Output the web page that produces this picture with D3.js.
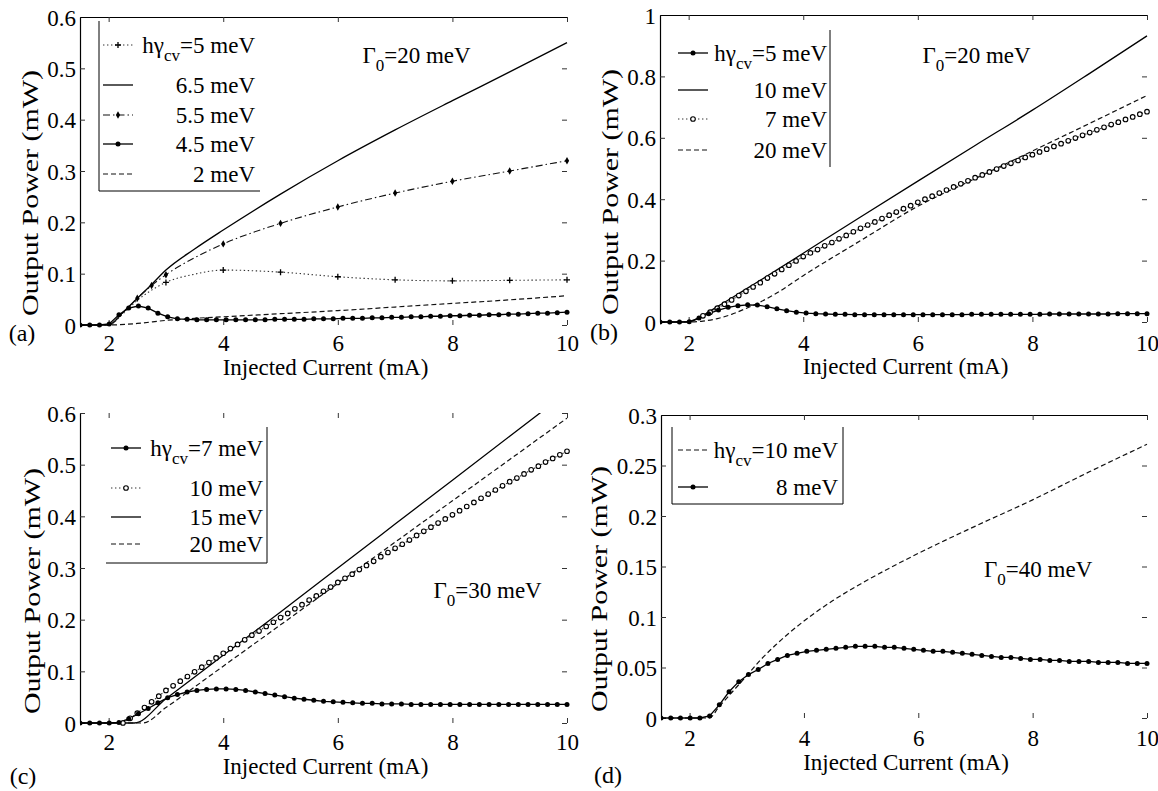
<!DOCTYPE html>
<html>
<head>
<meta charset="utf-8">
<script src="https://cdn.jsdelivr.net/npm/d3@7"></script>
<style>
  body { margin: 0; background: #fff; }
  svg text { font-family: "Liberation Serif", "DejaVu Serif", "Times New Roman", serif; }
</style>
</head>
<body>
<svg id="fig" width="1158" height="791"></svg>
<script>
const FONT = '"Liberation Serif", "DejaVu Serif", "Times New Roman", serif';

// ---- ticks ----
const xTicks = [2, 4, 6, 8, 10];
const yTicks06 = [0, 0.1, 0.2, 0.3, 0.4, 0.5, 0.6];
const yTicks1 = [0, 0.2, 0.4, 0.6, 0.8, 1];
const yTicks03 = [0, 0.05, 0.1, 0.15, 0.2, 0.25, 0.3];

// sample grids of the densely marked curves
const dotGrid = d3.range(51).map(i => +(1.5 + 0.17 * i).toFixed(2));
const ringGrid = d3.range(63).map(i => 2.25 + 0.125 * i);

// ---- panel (a), Gamma0 = 20 meV ----
const aX = [1.5, 2, 2.25, 2.5, 2.75, 3, 3.5, 4, 5, 6, 7, 8, 9, 10];
const a_5 = [0, 0, 0.022, 0.048, 0.068, 0.083, 0.099, 0.107, 0.103, 0.094, 0.088, 0.086, 0.087, 0.088];
const a_65 = [0, 0, 0.025, 0.052, 0.079, 0.107, 0.148, 0.185, 0.255, 0.32, 0.38, 0.437, 0.493, 0.55];
const a_55 = [0, 0, 0.024, 0.052, 0.077, 0.098, 0.131, 0.158, 0.198, 0.23, 0.257, 0.28, 0.3, 0.32];
const a_45 = [0, 0, 0, 0.002, 0.02, 0.033, 0.037, 0.033, 0.023, 0.016,
  0.012, 0.011, 0.01, 0.01, 0.01, 0.01, 0.01, 0.01, 0.01, 0.01,
  0.011, 0.011, 0.011, 0.011, 0.012, 0.012, 0.012, 0.013, 0.013, 0.013,
  0.014, 0.014, 0.015, 0.015, 0.016, 0.016, 0.017, 0.017, 0.018, 0.018,
  0.019, 0.019, 0.02, 0.02, 0.021, 0.021, 0.022, 0.023, 0.023, 0.024, 0.025];
const a2X = [1.5, 2, 2.5, 3, 3.5, 4, 5, 6, 7, 8, 9, 10];
const a_2 = [0, 0, 0.003, 0.009, 0.013, 0.016, 0.022, 0.028, 0.035, 0.042, 0.049, 0.057];
const a_5marks = [3, 4, 5, 6, 7, 8, 9, 10];
const a_55marks = [2.5, 2.75, 3, 4, 5, 6, 7, 8, 9, 10];

// ---- panel (b), Gamma0 = 20 meV ----
const b_5 = [0, 0, 0, 0.001, 0.013, 0.027, 0.039, 0.048, 0.053, 0.056,
  0.055, 0.05, 0.043, 0.037, 0.032, 0.029, 0.027, 0.026, 0.025, 0.025,
  0.024, 0.024, 0.024, 0.024, 0.024, 0.024, 0.024, 0.024, 0.024, 0.024,
  0.024, 0.024, 0.025, 0.025, 0.025, 0.025, 0.025, 0.025, 0.025, 0.025,
  0.026, 0.026, 0.026, 0.026, 0.026, 0.026, 0.026, 0.027, 0.027, 0.027, 0.027];
const bX = [1.5, 2, 2.25, 2.5, 2.75, 3, 3.5, 4, 5, 6, 7, 8, 9, 10];
const b_10 = [0, 0, 0.022, 0.05, 0.078, 0.107, 0.165, 0.224, 0.342, 0.459, 0.575, 0.69, 0.81, 0.932];
const b_7 = [0.02, 0.032, 0.045, 0.058, 0.072, 0.086, 0.1, 0.114, 0.128, 0.143, 0.157, 0.171, 0.185, 0.199, 0.213,
  0.225, 0.236, 0.248, 0.259, 0.271, 0.282, 0.294, 0.305,
  0.316, 0.326, 0.337, 0.348, 0.358, 0.369, 0.379, 0.39,
  0.4, 0.41, 0.42, 0.43, 0.44, 0.45, 0.46, 0.47,
  0.479, 0.489, 0.498, 0.508, 0.517, 0.526, 0.536, 0.545,
  0.554, 0.563, 0.572, 0.581, 0.59, 0.599, 0.608, 0.617,
  0.626, 0.634, 0.643, 0.651, 0.66, 0.668, 0.677, 0.685];
const b20X = [1.5, 2, 2.25, 2.5, 2.75, 3, 3.25, 3.5, 4, 5, 6, 7, 8, 9, 10];
const b_20 = [0, 0, 0.003, 0.011, 0.025, 0.044, 0.065, 0.09, 0.151, 0.265, 0.377, 0.467, 0.557, 0.647, 0.738];

// ---- panel (c), Gamma0 = 30 meV ----
const c_7 = [0, 0, 0, 0, 0.001, 0.008, 0.018, 0.028, 0.039, 0.049,
  0.055, 0.06, 0.063, 0.065, 0.066, 0.066, 0.065, 0.063, 0.06, 0.057,
  0.054, 0.051, 0.048, 0.046, 0.044, 0.042, 0.041, 0.04, 0.039, 0.038,
  0.038, 0.037, 0.037, 0.037, 0.036, 0.036, 0.036, 0.036, 0.036, 0.036,
  0.036, 0.036, 0.036, 0.036, 0.036, 0.036, 0.036, 0.036, 0.036, 0.036, 0.036];
const c_10 = [0, 0.009, 0.019, 0.03, 0.041, 0.052, 0.063, 0.072, 0.081, 0.09, 0.099, 0.108, 0.117, 0.126, 0.135,
  0.144, 0.152, 0.161, 0.17, 0.178, 0.187, 0.195, 0.204,
  0.212, 0.221, 0.229, 0.238, 0.246, 0.255, 0.263, 0.272,
  0.28, 0.288, 0.297, 0.305, 0.313, 0.322, 0.33, 0.338,
  0.346, 0.354, 0.363, 0.371, 0.379, 0.387, 0.395, 0.403,
  0.411, 0.419, 0.427, 0.435, 0.443, 0.451, 0.459, 0.467,
  0.474, 0.482, 0.49, 0.497, 0.505, 0.512, 0.519, 0.526];
const c15X = [1.5, 2.45, 3, 4, 5, 6, 7, 8, 9, 10];
const c_15 = [0, 0, 0.047, 0.131, 0.215, 0.3, 0.385, 0.47, 0.555, 0.64];
const c20X = [1.5, 2.6, 3, 4, 5, 6, 7, 8, 9, 10];
const c_20 = [0, 0, 0.03, 0.11, 0.19, 0.27, 0.35, 0.43, 0.51, 0.59];

// ---- panel (d), Gamma0 = 40 meV ----
const d10X = [1.5, 2.35, 2.5, 2.75, 3, 3.25, 3.5, 4, 4.5, 5, 6, 7, 8, 9, 10];
const d_10 = [0, 0, 0.01, 0.026, 0.042, 0.058, 0.072, 0.096, 0.116, 0.133, 0.163, 0.19, 0.216, 0.244, 0.271];
const d_8 = [0, 0, 0, 0, 0, 0.002, 0.013, 0.026, 0.036, 0.043,
  0.048, 0.054, 0.058, 0.062, 0.064, 0.066, 0.067, 0.068, 0.069, 0.07,
  0.071, 0.071, 0.071, 0.07, 0.07, 0.069, 0.068, 0.067, 0.066, 0.066,
  0.065, 0.064, 0.063, 0.062, 0.061, 0.06, 0.06, 0.059, 0.058, 0.058,
  0.057, 0.057, 0.056, 0.056, 0.056, 0.055, 0.055, 0.055, 0.054, 0.054, 0.054];

// line looks
const looks = {
  solid:   { dash: null, w: 1.3, color: '#000' },
  dotted:  { dash: '1.4,2.6', w: 1.1, color: '#333' },
  dashdot: { dash: '7,3,1.5,3', w: 1.1, color: '#111' },
  dashed:  { dash: '5,3', w: 1.2, color: '#111' }
};

const panels = [
  {
    tag: '(a)', L: 80, R: 567, T: 17, B: 325, yMax: 0.6, yTicks: yTicks06,
    tickY: 343, labelY: 367, tagPos: [22, 333], yLab: [30, 193], topLine: true,
    gamma: { x: 6.43, y: 0.526, val: '20 meV' },
    series: [
      { x: aX, y: a_65, look: 'solid' },
      { x: a2X, y: a_2, look: 'dashed' },
      { x: aX, y: a_55, look: 'dashdot', mark: 'diamond', at: a_55marks },
      { x: aX, y: a_5, look: 'dotted', mark: 'plus', at: a_5marks },
      { x: dotGrid, y: a_45, look: 'solid', mark: 'dot' }
    ],
    legend: {
      x0: 99, x1: 260, y0: 21, y1: 191, sides: ['left', 'bottom'], lx: [103, 133], tx: 255,
      rows: [
        { y: 45, look: 'dotted', mark: 'plus', sub: true, val: '=5 meV' },
        { y: 85, look: 'solid', val: '6.5 meV' },
        { y: 115, look: 'dashdot', mark: 'diamond', val: '5.5 meV' },
        { y: 144, look: 'solid', mark: 'dot', val: '4.5 meV' },
        { y: 174, look: 'dashed', val: '2 meV' }
      ]
    }
  },
  {
    tag: '(b)', L: 660, R: 1147, T: 15, B: 322, yMax: 1, yTicks: yTicks1,
    tickY: 343, labelY: 366, tagPos: [604, 332], yLab: [610, 192], topLine: true,
    gamma: { x: 6.08, y: 0.87, val: '20 meV' },
    series: [
      { x: bX, y: b_10, look: 'solid' },
      { x: b20X, y: b_20, look: 'dashed' },
      { x: ringGrid, y: b_7, look: 'dotted', mark: 'ring' },
      { x: dotGrid, y: b_5, look: 'solid', mark: 'dot' }
    ],
    legend: {
      x0: 672, x1: 830, y0: 30, y1: 167, sides: ['right'], lx: [678, 708], tx: 827,
      rows: [
        { y: 53, look: 'solid', mark: 'dot', sub: true, val: '=5 meV' },
        { y: 90, look: 'solid', val: '10 meV' },
        { y: 119, look: 'dotted', mark: 'ring', val: '7 meV' },
        { y: 150, look: 'dashed', val: '20 meV' }
      ]
    }
  },
  {
    tag: '(c)', L: 80, R: 567, T: 413, B: 723, yMax: 0.6, yTicks: yTicks06,
    tickY: 742, labelY: 766, tagPos: [23, 776], yLab: [32, 591], topLine: false,
    gamma: { x: 7.67, y: 0.258, val: '30 meV' },
    series: [
      { x: c15X, y: c_15, look: 'solid' },
      { x: c20X, y: c_20, look: 'dashed' },
      { x: ringGrid, y: c_10, look: 'dotted', mark: 'ring' },
      { x: dotGrid, y: c_7, look: 'solid', mark: 'dot' }
    ],
    legend: {
      x0: 106, x1: 267, y0: 427, y1: 563, sides: ['right', 'bottom'], lx: [111, 141], tx: 263,
      rows: [
        { y: 448, look: 'solid', mark: 'dot', sub: true, val: '=7 meV' },
        { y: 488, look: 'dotted', mark: 'ring', val: '10 meV' },
        { y: 517, look: 'solid', val: '15 meV' },
        { y: 544, look: 'dashed', val: '20 meV' }
      ]
    }
  },
  {
    tag: '(d)', L: 661, R: 1147, T: 415, B: 718, yMax: 0.3, yTicks: yTicks03,
    tickY: 738, labelY: 762, tagPos: [608, 775], yLab: [599, 589], topLine: true,
    gamma: { x: 7.15, y: 0.148, val: '40 meV' },
    series: [
      { x: d10X, y: d_10, look: 'dashed' },
      { x: dotGrid, y: d_8, look: 'solid', mark: 'dot' }
    ],
    legend: {
      x0: 672, x1: 843, y0: 427, y1: 504, sides: ['left', 'right', 'bottom'], lx: [678, 708], tx: 838,
      rows: [
        { y: 450, look: 'dashed', sub: true, val: '=10 meV' },
        { y: 487, look: 'solid', mark: 'dot', val: '8 meV' }
      ]
    }
  }
];

const svg = d3.select('#fig');

function drawMark(g, kind, cx, cy) {
  if (kind === 'dot') {
    g.append('circle').attr('cx', cx).attr('cy', cy).attr('r', 2.5).attr('fill', '#000');
  } else if (kind === 'ring') {
    g.append('circle').attr('cx', cx).attr('cy', cy).attr('r', 2.3)
      .attr('fill', '#fff').attr('stroke', '#000').attr('stroke-width', 1.1);
  } else if (kind === 'plus') {
    g.append('path').attr('d', `M${cx - 3},${cy}H${cx + 3}M${cx},${cy - 3}V${cy + 3}`)
      .attr('stroke', '#000').attr('stroke-width', 1.3);
  } else if (kind === 'diamond') {
    g.append('path').attr('d', d3.symbol(d3.symbolDiamond, 16)())
      .attr('transform', `translate(${cx},${cy})`).attr('fill', '#000');
  }
}

function styleLine(sel, look) {
  const s = looks[look];
  sel.attr('fill', 'none').attr('stroke', s.color).attr('stroke-width', s.w);
  if (s.dash) sel.attr('stroke-dasharray', s.dash);
  return sel;
}

function serif(sel, size) {
  return sel.attr('font-family', FONT).style('font-family', FONT).attr('font-size', size);
}

panels.forEach((p, pi) => {
  const x = d3.scaleLinear().domain([1.5, 10]).range([p.L, p.R]);
  const y = d3.scaleLinear().domain([0, p.yMax]).range([p.B, p.T]);
  const g = svg.append('g');
  const fmt = d => String(d);

  g.append('clipPath').attr('id', 'clip' + pi)
    .append('rect').attr('x', p.L).attr('y', p.T).attr('width', p.R - p.L + 4).attr('height', p.B - p.T + 5);

  // axes
  const left = g.append('g').attr('transform', `translate(${p.L},0)`)
    .call(d3.axisLeft(y).tickValues(p.yTicks).tickFormat(fmt).tickSize(-5).tickSizeOuter(0).tickPadding(4));
  const right = g.append('g').attr('transform', `translate(${p.R},0)`)
    .call(d3.axisRight(y).tickValues(p.yTicks).tickFormat('').tickSize(-5).tickSizeOuter(0));
  right.select('.domain').remove();
  const top = g.append('g').attr('transform', `translate(0,${p.T})`)
    .call(d3.axisTop(x).tickValues(xTicks).tickFormat('').tickSize(-5).tickSizeOuter(0));
  if (!p.topLine) top.select('.domain').remove();
  const bottom = g.append('g').attr('transform', `translate(0,${p.B})`)
    .call(d3.axisBottom(x).tickValues(xTicks).tickFormat(fmt).tickSize(-5).tickSizeOuter(0));
  bottom.select('.domain').remove();
  bottom.selectAll('text').attr('y', p.tickY - p.B).attr('dy', '0.35em');

  [left, right, top, bottom].forEach(a => {
    serif(a, 23);
    a.selectAll('.domain').attr('stroke', '#000').attr('stroke-width', 1.2);
    a.selectAll('.tick line').attr('stroke', '#333').attr('stroke-width', 1);
    a.selectAll('.tick text').attr('fill', '#000');
  });
  left.selectAll('text').attr('dy', '0.35em');

  // curves
  const plot = g.append('g').attr('clip-path', `url(#clip${pi})`);
  p.series.forEach(s => {
    const pts = s.x.map((xv, i) => [xv, s.y[i]]);
    const line = d3.line().x(d => x(d[0])).y(d => y(d[1]))
      .curve(s.x.length > 40 ? d3.curveLinear : d3.curveMonotoneX);
    styleLine(plot.append('path').attr('d', line(pts)), s.look);
  });
  p.series.forEach(s => {
    if (!s.mark) return;
    const mg = plot.append('g');
    s.x.forEach((xv, i) => {
      if (s.at && !s.at.includes(xv)) return;
      drawMark(mg, s.mark, x(xv), y(s.y[i]));
    });
  });

  // legend
  const lg = p.legend;
  const lb = g.append('g').attr('stroke', '#000').attr('stroke-width', 1);
  if (lg.sides.includes('left')) lb.append('line').attr('x1', lg.x0).attr('x2', lg.x0).attr('y1', lg.y0).attr('y2', lg.y1);
  if (lg.sides.includes('right')) lb.append('line').attr('x1', lg.x1).attr('x2', lg.x1).attr('y1', lg.y0).attr('y2', lg.y1);
  if (lg.sides.includes('bottom')) lb.append('line').attr('x1', lg.x0).attr('x2', lg.x1).attr('y1', lg.y1).attr('y2', lg.y1);
  lg.rows.forEach(r => {
    styleLine(g.append('line').attr('x1', lg.lx[0]).attr('x2', lg.lx[1]).attr('y1', r.y).attr('y2', r.y), r.look);
    if (r.mark) drawMark(g, r.mark, (lg.lx[0] + lg.lx[1]) / 2, r.y);
    const t = serif(g.append('text'), 23).attr('x', lg.tx).attr('y', r.y).attr('dy', '0.35em')
      .attr('text-anchor', 'end');
    if (r.sub) {
      t.append('tspan').text('hγ');
      t.append('tspan').attr('dy', 8).attr('font-size', 17).text('cv');
      t.append('tspan').attr('dy', -8).text(r.val);
    } else {
      t.text(r.val);
    }
  });

  // Gamma_0 note
  const gt = serif(g.append('text'), 23).attr('x', x(p.gamma.x)).attr('y', y(p.gamma.y)).attr('dy', '0.35em');
  gt.append('tspan').text('Γ');
  gt.append('tspan').attr('dy', 8).attr('font-size', 17).text('0');
  gt.append('tspan').attr('dy', -8).text('=' + p.gamma.val);

  // axis titles
  serif(g.append('text'), 23).attr('x', (p.L + p.R) / 2 + 2).attr('y', p.labelY).attr('dy', '0.35em')
    .attr('text-anchor', 'middle')
    .text('Injected Current (mA)');
  serif(g.append('text'), 24).attr('transform', `translate(${p.yLab[0]},${p.yLab[1]}) rotate(-90)`)
    .attr('dy', '0.35em').attr('text-anchor', 'middle')
    .attr('textLength', 246).attr('lengthAdjust', 'spacingAndGlyphs')
    .text('Output Power (mW)');
  serif(g.append('text'), 24).attr('x', p.tagPos[0]).attr('y', p.tagPos[1]).attr('dy', '0.35em')
    .attr('text-anchor', 'middle')
    .text(p.tag);
});
</script>
</body>
</html>
